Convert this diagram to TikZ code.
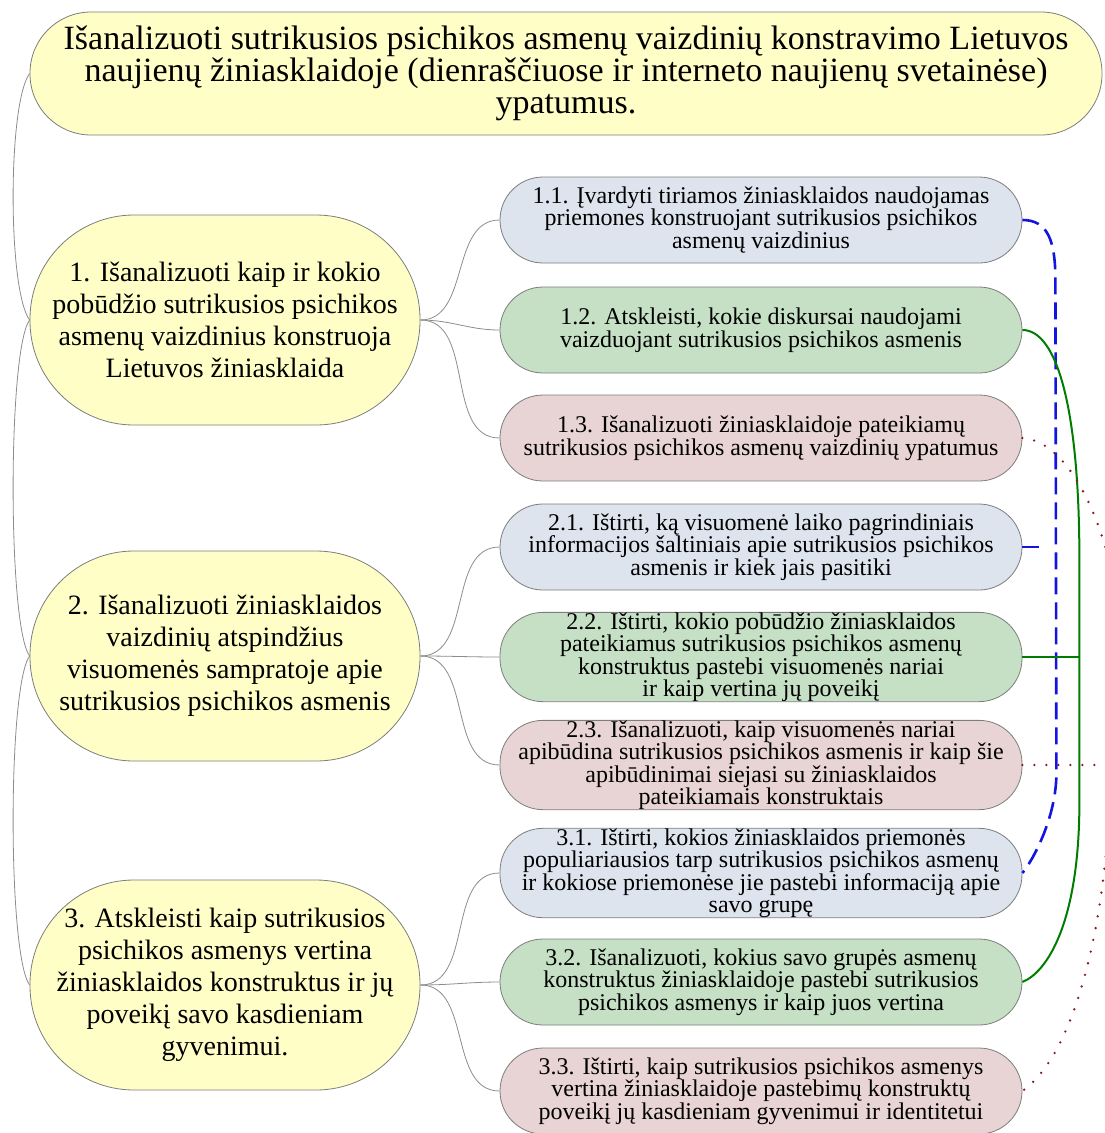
\documentclass[tikz,border=0pt]{standalone}
\usepackage{fontspec}
\setmainfont{Liberation Serif}
\usetikzlibrary{calc}
\definecolor{paleyellow}{RGB}{254,254,198}
\definecolor{paleblue}{RGB}{221,228,238}
\definecolor{palegreen}{RGB}{197,224,196}
\definecolor{palepink}{RGB}{232,212,212}
\definecolor{boxline}{RGB}{125,125,125}
\definecolor{branchgray}{RGB}{140,140,140}
\definecolor{linkblue}{RGB}{20,20,225}
\definecolor{linkgreen}{RGB}{0,125,0}
\definecolor{linkred}{RGB}{140,25,25}

\begin{document}
\begin{tikzpicture}[x=1pt,y=-1pt,
    box/.style={rectangle,draw=boxline,line width=0.8pt,align=center,inner sep=0pt},
    goal/.style={box,fill=paleyellow,rounded corners=61pt,minimum width=1072pt,minimum height=123pt,font=\fontsize{34}{32}\selectfont},
    topic/.style={box,fill=paleyellow,rounded corners=104pt,minimum width=390pt,minimum height=210pt,font=\fontsize{28}{32}\selectfont},
    task/.style={box,rounded corners=43pt,minimum width=522pt,minimum height=86pt,font=\fontsize{24}{22.5}\selectfont},
    branch/.style={draw=branchgray,line width=0.8pt},
    bluelink/.style={draw=linkblue,line width=2.6pt,dash pattern=on 17pt off 8pt},
    greenlink/.style={draw=linkgreen,line width=2pt},
    redlink/.style={draw=linkred,line width=2.6pt,line cap=round,dash pattern=on 0pt off 12pt}]
  \useasboundingbox (0,0) rectangle (1105,1133);
  \clip (0,0) rectangle (1105,1133);
  \node[goal] (goal) at (566,73.5) {Išanalizuoti sutrikusios psichikos asmenų vaizdinių konstravimo Lietuvos\\naujienų žiniasklaidoje (dienraščiuose ir interneto naujienų svetainėse)\\ypatumus.};
  \node[topic] (p1) at (225,320) {1. Išanalizuoti kaip ir kokio\\pobūdžio sutrikusios psichikos\\asmenų vaizdinius konstruoja\\Lietuvos žiniasklaida};
  \node[topic] (p2) at (225,656) {2. Išanalizuoti žiniasklaidos\\vaizdinių atspindžius\\visuomenės sampratoje apie\\sutrikusios psichikos asmenis};
  \node[topic] (p3) at (225,985) {3. Atskleisti kaip sutrikusios\\psichikos asmenys vertina\\žiniasklaidos konstruktus ir jų\\poveikį savo kasdieniam\\gyvenimui.};
  \node[task,fill=paleblue] (c11) at (761,220) {1.1. Įvardyti tiriamos žiniasklaidos naudojamas\\priemones konstruojant sutrikusios psichikos\\asmenų vaizdinius};
  \node[task,fill=palegreen] (c12) at (761,330) {1.2. Atskleisti, kokie diskursai naudojami\\vaizduojant sutrikusios psichikos asmenis};
  \node[task,fill=palepink] (c13) at (761,438) {1.3. Išanalizuoti žiniasklaidoje pateikiamų\\sutrikusios psichikos asmenų vaizdinių ypatumus};
  \node[task,fill=paleblue] (c21) at (761,547) {2.1. Ištirti, ką visuomenė laiko pagrindiniais\\informacijos šaltiniais apie sutrikusios psichikos\\asmenis ir kiek jais pasitiki};
  \node[task,fill=palegreen] (c22) at (761,657) {2.2. Ištirti, kokio pobūdžio žiniasklaidos\\pateikiamus sutrikusios psichikos asmenų\\konstruktus pastebi visuomenės nariai\\ir kaip vertina jų poveikį};
  \node[task,fill=palepink] (c23) at (761,765) {2.3. Išanalizuoti, kaip visuomenės nariai\\apibūdina sutrikusios psichikos asmenis ir kaip šie\\apibūdinimai siejasi su žiniasklaidos\\pateikiamais konstruktais};
  \node[task,fill=paleblue] (c31) at (761,873) {3.1. Ištirti, kokios žiniasklaidos priemonės\\populiariausios tarp sutrikusios psichikos asmenų\\ir kokiose priemonėse jie pastebi informaciją apie\\savo grupę};
  \node[task,fill=palegreen] (c32) at (761,982) {3.2. Išanalizuoti, kokius savo grupės asmenų\\konstruktus žiniasklaidoje pastebi sutrikusios\\psichikos asmenys ir kaip juos vertina};
  \node[task,fill=palepink] (c33) at (761,1091) {3.3. Ištirti, kaip sutrikusios psichikos asmenys\\vertina žiniasklaidoje pastebimų konstruktų\\poveikį jų kasdieniam gyvenimui ir identitetui};
  \draw[branch] (goal.west) .. controls +(-22,30) and +(-22,-30) .. (p1.west);
  \draw[branch] (p1.west) .. controls +(-22,30) and +(-22,-30) .. (p2.west);
  \draw[branch] (p2.west) .. controls +(-22,30) and +(-22,-30) .. (p3.west);
  \foreach \p/\c in {p1/c11,p1/c12,p1/c13,p2/c21,p2/c22,p2/c23,p3/c31,p3/c32,p3/c33}
    \draw[branch] (\p.east) to[out=0,in=180] (\c.west);
  \draw[bluelink] (c11.east) .. controls +(25,0) and +(0,-40) .. ($(c11.east)+(33,60)$) -- ($(c31.east)+(34,-100)$) .. controls +(0,45) and +(10,-12) .. (c31.east);
  \draw[bluelink] (c21.east) -- +(21,0);
  \draw[greenlink] (c12.east) .. controls +(35,0) and +(0,-150) .. ($(c12.east)+(57,230)$) -- ($(c32.east)+(57,-180)$) .. controls +(0,120) and +(25,-10) .. (c32.east);
  \draw[greenlink] (c22.east) -- +(57,0);
  \draw[redlink] (c13.east) .. controls +(50,3) and +(-5,-100) .. ($(c13.east)+(98,200)$) -- ($(c33.east)+(88,-331)$) .. controls +(0,140) and +(58,-41) .. (c33.east);
  \draw[redlink] (c23.east) -- +(100,0);
\end{tikzpicture}
\end{document}
